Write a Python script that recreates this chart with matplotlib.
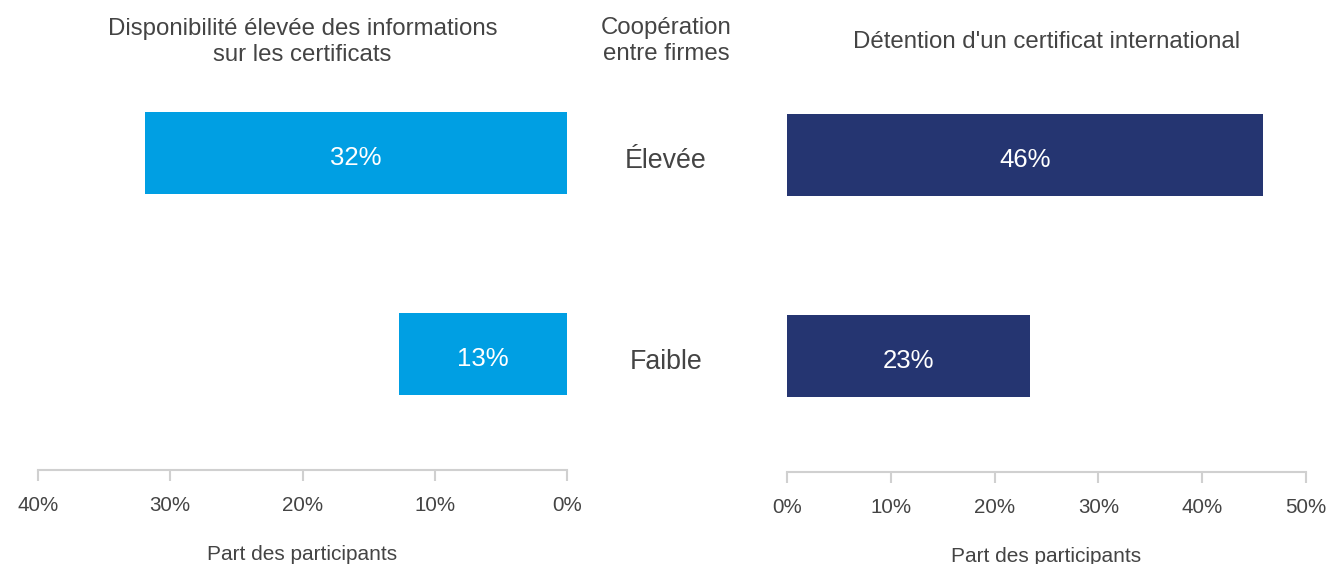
import matplotlib.pyplot as plt
import matplotlib.transforms as mtransforms
from matplotlib.ticker import PercentFormatter

plt.rcParams['font.family'] = ['Liberation Sans', 'DejaVu Sans']

# données
categories = ['Élevée', 'Faible']
info_dispo = [31.9, 12.7]     # Disponibilité élevée des informations
certif_intl = [45.9, 23.4]    # Détention d'un certificat international
ypos = [1, 0]

gris = '#444444'
bleu_clair = '#009FE3'
bleu_fonce = '#253571'

fig = plt.figure(figsize=(13.29, 5.64), dpi=100)

# y limits so that bars land where they are in the reference
ylim = (-0.577, 1.264)

ax1 = fig.add_axes([38 / 1329, 1 - 470 / 564, (567 - 38) / 1329, (470 - 100) / 564])
ax2 = fig.add_axes([787 / 1329, 1 - 472 / 564, (1306 - 787) / 1329, (472 - 102) / 564])

ax1.barh(ypos, info_dispo, height=0.41, color=bleu_clair)
ax1.set_xlim(40, 0)
ax2.barh(ypos, certif_intl, height=0.41, color=bleu_fonce)
ax2.set_xlim(0, 50)

for ax, vals in [(ax1, info_dispo), (ax2, certif_intl)]:
    ax.set_ylim(*ylim)
    for y, v in zip(ypos, vals):
        ax.text(v / 2, y - 0.01, f'{v:.0f}%', ha='center', va='center_baseline',
                color='white', fontsize=18.5)
    for s in ['top', 'left', 'right']:
        ax.spines[s].set_visible(False)
    ax.spines['bottom'].set_color('#d0d0d0')
    ax.spines['bottom'].set_linewidth(1.5)
    ax.set_yticks([])
    ax.xaxis.set_major_formatter(PercentFormatter(decimals=0))
    ax.tick_params(axis='x', colors='#d0d0d0', labelcolor=gris, labelsize=14.8,
                   length=8, width=1.5, pad=11)
    ax.set_xlabel('Part des participants', fontsize=15, color=gris, labelpad=21)

ax1.set_xticks([40, 30, 20, 10, 0])
ax2.set_xticks([0, 10, 20, 30, 40, 50])

ax1.set_title('Disponibilité élevée des informations\nsur les certificats',
              fontsize=17.3, color=gris, pad=28, linespacing=1.25)
ax2.set_title("Détention d'un certificat international", fontsize=17.3, color=gris, pad=39)

# libellés centraux
trans = mtransforms.blended_transform_factory(fig.transFigure, ax1.transData)
for y, c in zip(ypos, categories):
    ax1.text(666 / 1329, y - 0.025, c, transform=trans, ha='center', va='center_baseline',
             fontsize=19.3, color=gris)
fig.text(666 / 1329, 1 - 41 / 564, 'Coopération\nentre firmes', ha='center', va='center',
         fontsize=17.3, color=gris, linespacing=1.25)

plt.savefig('out.png', dpi=100)
